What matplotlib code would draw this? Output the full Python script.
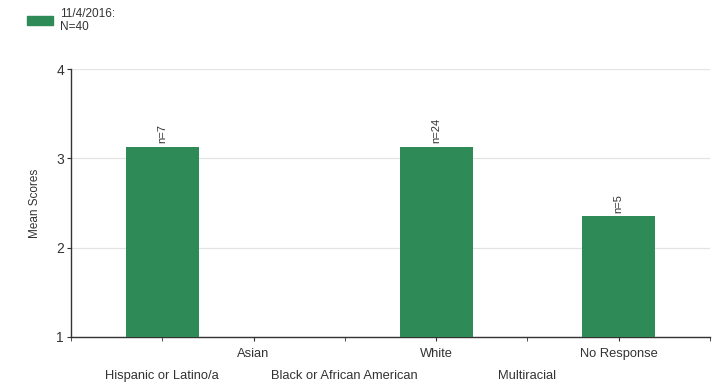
import numpy as np
import matplotlib
matplotlib.use("Agg")
import matplotlib.pyplot as plt
from matplotlib.patches import Rectangle

plt.rcParams['font.family'] = ['Liberation Sans', 'DejaVu Sans']

categories = ["Hispanic or Latino/a", "Asian", "Black or African American",
              "White", "Multiracial", "No Response"]
mean_scores = [3.13, np.nan, np.nan, 3.13, np.nan, 2.35]
counts = [7, None, None, 24, None, 5]
legend_label = "11/4/2016:\nN=40"

bar_color = "#2e8b57"
axis_color = "#333333"
text_color = "#333333"

fig = plt.figure(figsize=(7.17, 3.84), dpi=100)
ax = fig.add_axes([0.099, 0.1224, 0.891, 0.6979])

x = np.arange(len(categories))
for xi, v, n in zip(x, mean_scores, counts):
    if np.isnan(v):
        continue
    ax.bar(xi, v, width=0.8, color=bar_color, zorder=3)
    ax.text(xi, v + 0.04, f"n={n}", rotation=90, ha="center", va="bottom",
            fontsize=8, color=text_color)

ax.set_xlim(-1, len(categories))
ax.set_ylim(1, 4)
ax.set_yticks([1, 2, 3, 4])
ax.set_yticklabels(["1", "2", "3", "4"], fontsize=10, color=text_color)
ax.grid(axis="y", color="#e3e3e3", linewidth=0.9, zorder=0)

# staggered category labels: odd ones on the first row, even ones below
major_pos = [i for i in x if i % 2 == 1]
minor_pos = [-1] + [i for i in x if i % 2 == 0] + [len(categories)]
ax.set_xticks(major_pos)
ax.set_xticklabels([categories[i] for i in major_pos], fontsize=9.3, color=text_color)
ax.set_xticks(minor_pos, minor=True)
ax.set_xticklabels([""] + [categories[i] for i in x if i % 2 == 0] + [""],
                   minor=True, fontsize=9.3, color=text_color)
ax.tick_params(axis="x", which="major", length=3, pad=5, color=axis_color)
ax.tick_params(axis="x", which="minor", length=3, pad=20.5, color=axis_color)
ax.tick_params(axis="y", length=3, pad=2, color=axis_color)

for side in ("top", "right"):
    ax.spines[side].set_visible(False)
for side in ("left", "bottom"):
    ax.spines[side].set_color(axis_color)
    ax.spines[side].set_linewidth(1.0)

ax.set_ylabel("Mean Scores", fontsize=8.5, color=text_color, labelpad=11)

# legend drawn at the top-left corner
fig.patches.append(Rectangle((27 / 717, 1 - 25 / 384), 26 / 717, 9 / 384,
                             transform=fig.transFigure, color=bar_color))
fig.text(60 / 717, 1 - 20.5 / 384, legend_label, fontsize=8.5, color=text_color,
         va="center", ha="left", linespacing=1.05)

fig.savefig("out.png", dpi=100)
